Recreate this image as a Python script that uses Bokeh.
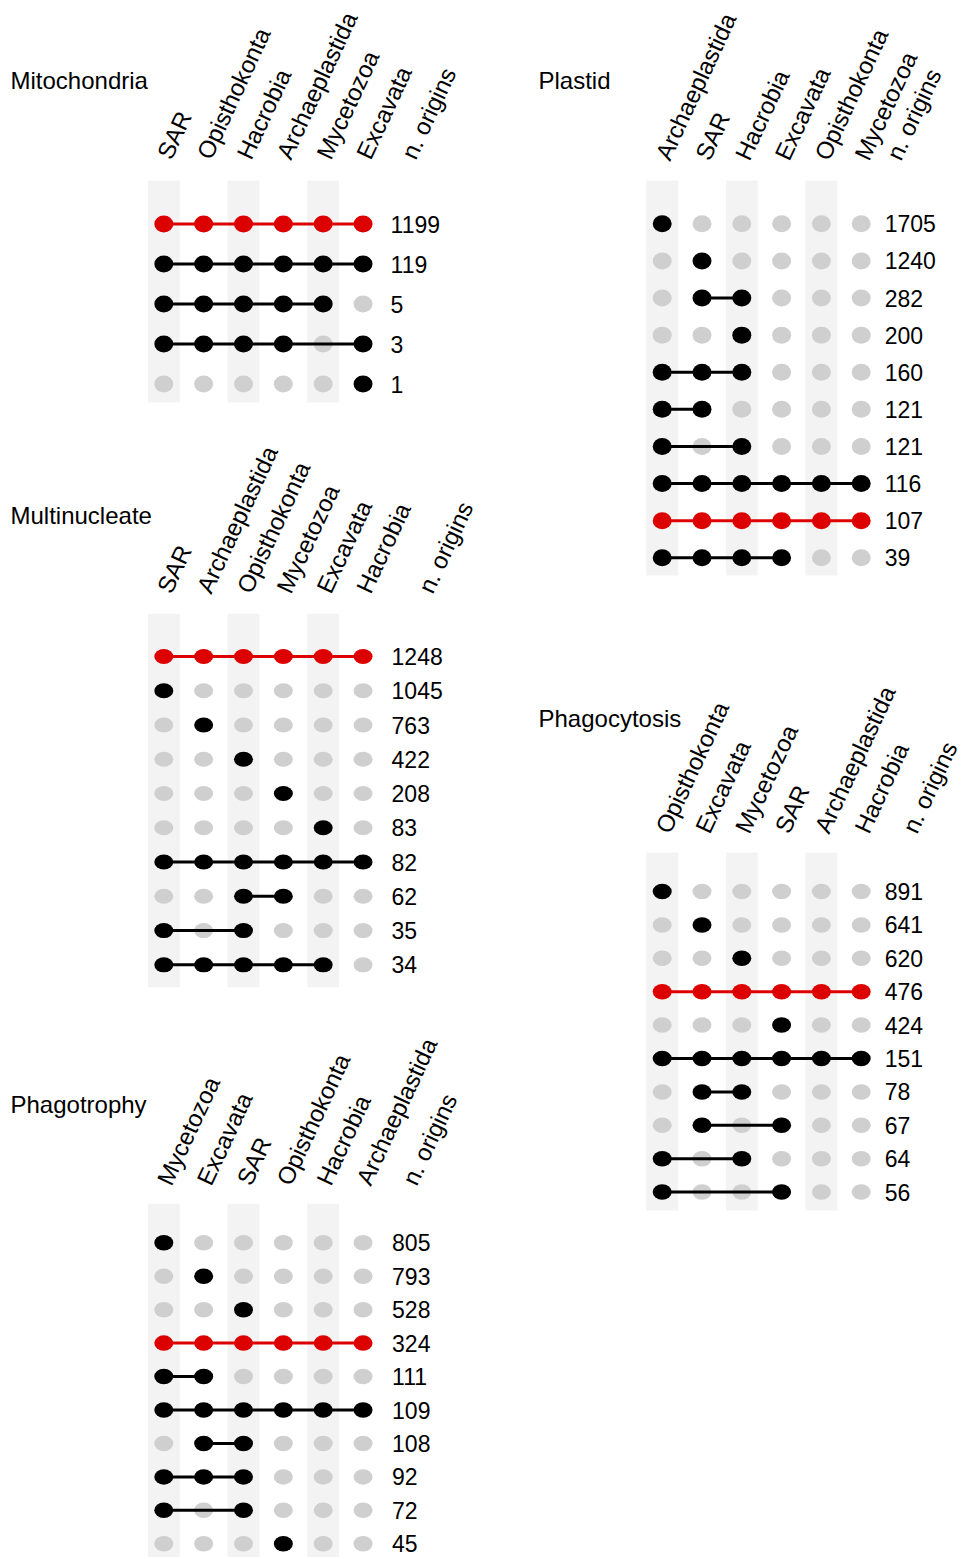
import math
from bokeh.plotting import figure
from bokeh.layouts import row, column
from bokeh.models import Range1d, Label
from bokeh.embed import file_html
from bokeh.resources import INLINE
from bokeh.core.properties import value

FONT = "Liberation Sans"
BAND = "#F3F3F3"
GREY = "#CFCFCF"
RED = "#DD0000"
BLACK = "#000000"
COUNT_LABEL = "n. origins"

# ---------------- data ----------------
mito_title = "Mitochondria"
mito_clades = ["SAR", "Opisthokonta", "Hacrobia", "Archaeplastida", "Mycetozoa", "Excavata"]
mito_counts = [1199, 119, 5, 3, 1]
mito_members = [
    [1, 1, 1, 1, 1, 1],
    [1, 1, 1, 1, 1, 1],
    [1, 1, 1, 1, 1, 0],
    [1, 1, 1, 1, 0, 1],
    [0, 0, 0, 0, 0, 1],
]
mito_red = [1, 0, 0, 0, 0]

plastid_title = "Plastid"
plastid_clades = ["Archaeplastida", "SAR", "Hacrobia", "Excavata", "Opisthokonta", "Mycetozoa"]
plastid_counts = [1705, 1240, 282, 200, 160, 121, 121, 116, 107, 39]
plastid_members = [
    [1, 0, 0, 0, 0, 0],
    [0, 1, 0, 0, 0, 0],
    [0, 1, 1, 0, 0, 0],
    [0, 0, 1, 0, 0, 0],
    [1, 1, 1, 0, 0, 0],
    [1, 1, 0, 0, 0, 0],
    [1, 0, 1, 0, 0, 0],
    [1, 1, 1, 1, 1, 1],
    [1, 1, 1, 1, 1, 1],
    [1, 1, 1, 1, 0, 0],
]
plastid_red = [0, 0, 0, 0, 0, 0, 0, 0, 1, 0]

multi_title = "Multinucleate"
multi_clades = ["SAR", "Archaeplastida", "Opisthokonta", "Mycetozoa", "Excavata", "Hacrobia"]
multi_counts = [1248, 1045, 763, 422, 208, 83, 82, 62, 35, 34]
multi_members = [
    [1, 1, 1, 1, 1, 1],
    [1, 0, 0, 0, 0, 0],
    [0, 1, 0, 0, 0, 0],
    [0, 0, 1, 0, 0, 0],
    [0, 0, 0, 1, 0, 0],
    [0, 0, 0, 0, 1, 0],
    [1, 1, 1, 1, 1, 1],
    [0, 0, 1, 1, 0, 0],
    [1, 0, 1, 0, 0, 0],
    [1, 1, 1, 1, 1, 0],
]
multi_red = [1, 0, 0, 0, 0, 0, 0, 0, 0, 0]

phagocyt_title = "Phagocytosis"
phagocyt_clades = ["Opisthokonta", "Excavata", "Mycetozoa", "SAR", "Archaeplastida", "Hacrobia"]
phagocyt_counts = [891, 641, 620, 476, 424, 151, 78, 67, 64, 56]
phagocyt_members = [
    [1, 0, 0, 0, 0, 0],
    [0, 1, 0, 0, 0, 0],
    [0, 0, 1, 0, 0, 0],
    [1, 1, 1, 1, 1, 1],
    [0, 0, 0, 1, 0, 0],
    [1, 1, 1, 1, 1, 1],
    [0, 1, 1, 0, 0, 0],
    [0, 1, 0, 1, 0, 0],
    [1, 0, 1, 0, 0, 0],
    [1, 0, 0, 1, 0, 0],
]
phagocyt_red = [0, 0, 0, 1, 0, 0, 0, 0, 0, 0]

phagotr_title = "Phagotrophy"
phagotr_clades = ["Mycetozoa", "Excavata", "SAR", "Opisthokonta", "Hacrobia", "Archaeplastida"]
phagotr_counts = [805, 793, 528, 324, 111, 109, 108, 92, 72, 45]
phagotr_members = [
    [1, 0, 0, 0, 0, 0],
    [0, 1, 0, 0, 0, 0],
    [0, 0, 1, 0, 0, 0],
    [1, 1, 1, 1, 1, 1],
    [1, 1, 0, 0, 0, 0],
    [1, 1, 1, 1, 1, 1],
    [0, 1, 1, 0, 0, 0],
    [1, 1, 1, 0, 0, 0],
    [1, 0, 1, 0, 0, 0],
    [0, 0, 0, 1, 0, 0],
]
phagotr_red = [0, 0, 0, 1, 0, 0, 0, 0, 0, 0]

# ---------------- layout geometry (window pixels) ----------------
GEOM = {
    "mito": dict(x0=0, y0=0, W=520, H=420, col0=163.3, cs=39.85, row0=223.5, rs=40.0,
                 band=(180, 402), lab_y=157, title=(10, 80), num_dx=27.5, cnt_dx=45, dot_h=17),
    "multi": dict(x0=0, y0=420, W=520, H=580, col0=163.3, cs=39.85, row0=656.0, rs=34.26,
                  band=(613.3, 986.7), lab_y=591, title=(10, 515), num_dx=28.5, cnt_dx=62, dot_h=15),
    "phagotr": dict(x0=0, y0=1000, W=520, H=557, col0=163.3, cs=39.85, row0=1242.3, rs=33.44,
                    band=(1203.3, 1570), lab_y=1183, title=(10, 1104), num_dx=29, cnt_dx=46, dot_h=15.5),
    "plastid": dict(x0=520, y0=0, W=444, H=630, col0=661.7, cs=39.8, row0=223.3, rs=37.11,
                    band=(180, 575), lab_y=158, title=(538, 80), num_dx=23.5, cnt_dx=32, dot_h=17),
    "phagocyt": dict(x0=520, y0=630, W=444, H=927, col0=661.7, cs=39.8, row0=891.0, rs=33.4,
                     band=(852, 1210), lab_y=831, title=(538, 717.5), num_dx=23.5, cnt_dx=48, dot_h=15.5),
}
ANGLE = math.radians(65)


def make_panel(title, clades, counts, members, red, g):
    cs, rs = g["cs"], g["rs"]
    dx = lambda px: (px - g["col0"]) / cs
    dy = lambda py: (py - g["row0"]) / rs
    p = figure(width=g["W"], height=g["H"],
               x_range=Range1d(dx(g["x0"]), dx(g["x0"] + g["W"])),
               y_range=Range1d(dy(g["y0"] + g["H"]), dy(g["y0"])),
               output_backend="svg", toolbar_location=None, min_border=0,
               x_axis_type=None, y_axis_type=None)
    p.outline_line_color = None
    p.grid.visible = False
    p.background_fill_color = "white"
    p.border_fill_color = "white"

    ncol = len(clades)
    nrow = len(counts)
    band_cols = [i for i in range(ncol) if i % 2 == 0]
    p.quad(left=[i - 0.4 for i in band_cols], right=[i + 0.4 for i in band_cols],
           top=[dy(g["band"][0])] * len(band_cols), bottom=[dy(g["band"][1])] * len(band_cols),
           fill_color=BAND, line_color=None)

    gx, gy = [], []
    for r in range(nrow):
        for c in range(ncol):
            if not members[r][c]:
                gx.append(c)
                gy.append(r)
    p.ellipse(x=gx, y=gy, width=19, height=g["dot_h"], width_units="screen",
              height_units="screen", fill_color=GREY, line_color=None)

    for r in range(nrow):
        act = [c for c in range(ncol) if members[r][c]]
        col = RED if red[r] else BLACK
        if len(act) > 1:
            p.segment(x0=[min(act)], y0=[r], x1=[max(act)], y1=[r], line_color=col, line_width=3)
        p.ellipse(x=act, y=[r] * len(act), width=19, height=g["dot_h"], width_units="screen",
                  height_units="screen", fill_color=col, line_color=None)

    p.text(x=[ncol - 1 + g["num_dx"] / cs] * nrow, y=list(range(nrow)), text=[str(v) for v in counts],
           text_align="left", text_baseline="middle", text_font=value(FONT),
           text_font_size=value("23px"), text_color=BLACK)

    lx = list(range(ncol)) + [ncol - 1 + g["cnt_dx"] / cs]
    p.text(x=lx, y=[dy(g["lab_y"])] * len(lx), text=clades + [COUNT_LABEL], angle=ANGLE,
           text_align="left", text_baseline="middle", text_font=value(FONT),
           text_font_size=value("24px"), text_color=BLACK)

    p.add_layout(Label(x=dx(g["title"][0]), y=dy(g["title"][1]), text=title, text_align="left",
                       text_baseline="middle", text_font=FONT, text_font_size="24px",
                       text_color=BLACK))
    return p


f_mito = make_panel(mito_title, mito_clades, mito_counts, mito_members, mito_red, GEOM["mito"])
f_multi = make_panel(multi_title, multi_clades, multi_counts, multi_members, multi_red, GEOM["multi"])
f_phagotr = make_panel(phagotr_title, phagotr_clades, phagotr_counts, phagotr_members, phagotr_red, GEOM["phagotr"])
f_plastid = make_panel(plastid_title, plastid_clades, plastid_counts, plastid_members, plastid_red, GEOM["plastid"])
f_phagocyt = make_panel(phagocyt_title, phagocyt_clades, phagocyt_counts, phagocyt_members, phagocyt_red, GEOM["phagocyt"])

layout = row(column(f_mito, f_multi, f_phagotr), column(f_plastid, f_phagocyt))
open("out.html", "w").write(file_html(layout, INLINE))
